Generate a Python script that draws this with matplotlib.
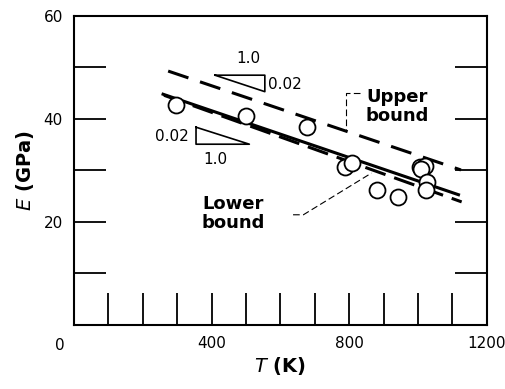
import matplotlib.pyplot as plt

# measured points
temp_k = [298, 500, 678, 788, 807, 880, 943, 1005, 1020, 1008, 1025, 1023]
modulus_gpa = [42.7, 40.6, 38.5, 30.7, 31.4, 26.3, 24.8, 30.7, 30.9, 30.3, 27.8, 26.2]

# fitted line and bounds (end points)
fit_t = [255, 1122]
fit_e = [44.9, 25.2]
upper_t = [274, 1125]
upper_e = [49.3, 30.1]
lower_t = [262, 1127]
lower_e = [44.6, 23.9]

fig = plt.figure(figsize=(5.06, 3.89), dpi=100)
ax = fig.add_axes([0.146, 0.1645, 0.816, 0.7945])

ax.plot(fit_t, fit_e, color='black', linewidth=2.2, solid_capstyle='butt')
ax.plot(upper_t, upper_e, color='black', linewidth=2.2, dashes=(7, 4))
ax.plot(lower_t, lower_e, color='black', linewidth=2.2, dashes=(7, 3))
ax.plot(temp_k, modulus_gpa, 'o', markersize=11.5, markerfacecolor='white',
        markeredgecolor='black', markeredgewidth=1.3)

# slope triangles
ax.plot([410, 555, 555, 410], [48.5, 48.5, 45.3, 48.5], color='black', linewidth=1.2)
ax.text(506, 50.2, '1.0', ha='center', va='bottom', fontsize=11)
ax.text(565, 46.6, '0.02', ha='left', va='center', fontsize=11)
ax.plot([355, 355, 510, 355], [38.4, 35.1, 35.1, 38.4], color='black', linewidth=1.2)
ax.text(335, 36.6, '0.02', ha='right', va='center', fontsize=11)
ax.text(410, 33.6, '1.0', ha='center', va='top', fontsize=11)

# labels with leaders
ax.text(940, 42.4, 'Upper\nbound', ha='center', va='center', fontsize=13,
        fontweight='bold', linespacing=1.1)
ax.plot([831, 792, 792], [45, 45, 37.9], color='black', linewidth=0.8, dashes=(6, 3))
ax.text(463, 21.7, 'Lower\nbound', ha='center', va='center', fontsize=13,
        fontweight='bold', linespacing=1.1)
ax.plot([637, 667, 865], [21.4, 21.4, 29.5], color='black', linewidth=0.8, dashes=(6, 3))

ax.set_xlim(0, 1200)
ax.set_ylim(0, 60)
ax.set_xticks(range(0, 1201, 100))
ax.set_xticklabels(['' if t % 400 or t == 0 else str(t) for t in range(0, 1201, 100)])
ax.set_yticks(range(0, 61, 10))
ax.set_yticklabels(['' if v % 20 or v == 0 else str(v) for v in range(0, 61, 10)])
ax.text(-40, -2.5, '0', ha='center', va='top', fontsize=11)
ax.tick_params(axis='both', direction='in', length=23, width=1.3, labelsize=11, pad=8)
ax.tick_params(axis='y', right=True, labelright=False)
ax.tick_params(axis='x', top=False)
for s in ax.spines.values():
    s.set_linewidth(1.5)

ax.set_xlabel(r'$\mathit{T}$ (K)', fontsize=14, fontweight='bold', labelpad=3)
ax.set_ylabel(r'$\mathit{E}$ (GPa)', fontsize=14, fontweight='bold', labelpad=5)

fig.savefig('out.png', dpi=100)
